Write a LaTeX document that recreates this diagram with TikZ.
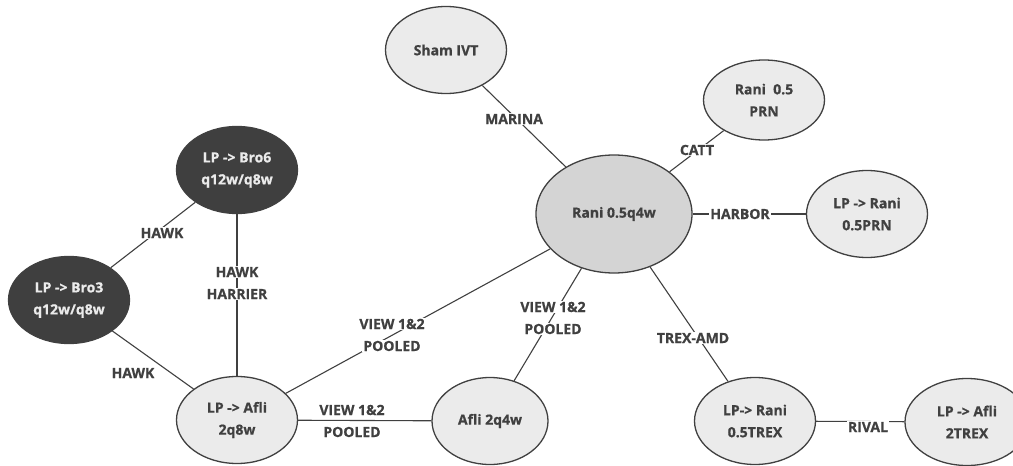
\documentclass[tikz,border=0pt]{standalone}
\usepackage{fontspec}
\setmainfont{Open Sans}[BoldFeatures={FakeBold=0.8}]
\usetikzlibrary{shapes.geometric}
\definecolor{ink}{HTML}{404040}
\definecolor{lightfill}{HTML}{EBEBEB}
\definecolor{midfill}{HTML}{D4D4D4}
\definecolor{darkfill}{HTML}{3F3F3F}
\setlength{\fboxsep}{1pt}
\newcommand{\lbline}[1]{\colorbox{white}{#1}}
\tikzset{
  every node/.style={font=\fontsize{14}{22}\selectfont\bfseries, text=ink},
  bubble/.style={ellipse, draw=ink, line width=1.3pt, fill=lightfill, align=center,
                 minimum width=121pt, minimum height=87pt, inner sep=0pt},
  hub/.style={bubble, fill=midfill, minimum width=156pt, minimum height=118pt},
  darkbubble/.style={bubble, fill=darkfill, text=white!92!black},
  link/.style={draw=ink, line width=1.1pt},
  elab/.style={align=center, inner sep=0pt}
}
\begin{document}
\begin{tikzpicture}[x=1pt, y=-1pt]
\useasboundingbox (0,0) rectangle (1013,466);

% nodes
\node[hub] (rani) at (614,214) {Rani 0.5q4w};
\node[bubble] (sham) at (446,50) {Sham IVT};
\node[bubble, minimum height=80pt] (raniprn) at (764,100) {Rani\ \ 0.5\\PRN};
\node[bubble] (lpraniprn) at (867,214) {LP -> Rani\\0.5PRN};
\node[bubble] (lpranitrex) at (755,421) {LP-> Rani\\0.5TREX};
\node[bubble, minimum width=124pt] (lpaflitrex) at (967,422) {LP -> Afli\\2TREX};
\node[darkbubble] (bro6) at (237,170) {LP -> Bro6\\q12w/q8w};
\node[darkbubble] (bro3) at (69,300) {LP -> Bro3\\q12w/q8w};
\node[bubble] (afli8) at (237,420) {LP -> Afli\\2q8w};
\node[bubble, minimum width=116pt] (afli4) at (490,421) {Afli 2q4w};

% connectors
\draw[link] (sham) -- (rani);
\draw[link] (raniprn) -- (rani);
\draw[link] (rani) -- (lpraniprn);
\draw[link] (rani) -- (lpranitrex);
\draw[link] (lpranitrex) -- (lpaflitrex);
\draw[link] (bro6) -- (bro3);
\draw[link] (bro6) -- (afli8);
\draw[link] (bro3) -- (afli8);
\draw[link] (afli8) -- (rani);
\draw[link] (afli4) -- (rani);
\draw[link] (afli8) -- (afli4);

% connector labels
\node[elab] (lmarina) at (514,119) {\lbline{MARINA}};
\node[elab] (lcatt) at (697,150) {\lbline{CATT}};
\node[elab] (lharbor) at (740,214) {\lbline{HARBOR}};
\node[elab] (ltrex) at (693,338) {\lbline{TREX-AMD}};
\node[elab] (lrival) at (868,427) {\lbline{RIVAL}};
\node[elab] (lhawka) at (162,233) {\lbline{HAWK}};
\node[elab] (lharrier) at (237,283) {\lbline{HAWK}\\\lbline{HARRIER}};
\node[elab] (lhawkb) at (133,373) {\lbline{HAWK}};
\node[elab] (lviewa) at (392,335) {\lbline{VIEW 1\&2}\\\lbline{POOLED}};
\node[elab] (lviewb) at (553,318) {\lbline{VIEW 1\&2}\\\lbline{POOLED}};
\node[elab] (lviewc) at (352,421) {VIEW 1\&2\\POOLED};
\end{tikzpicture}
\end{document}
